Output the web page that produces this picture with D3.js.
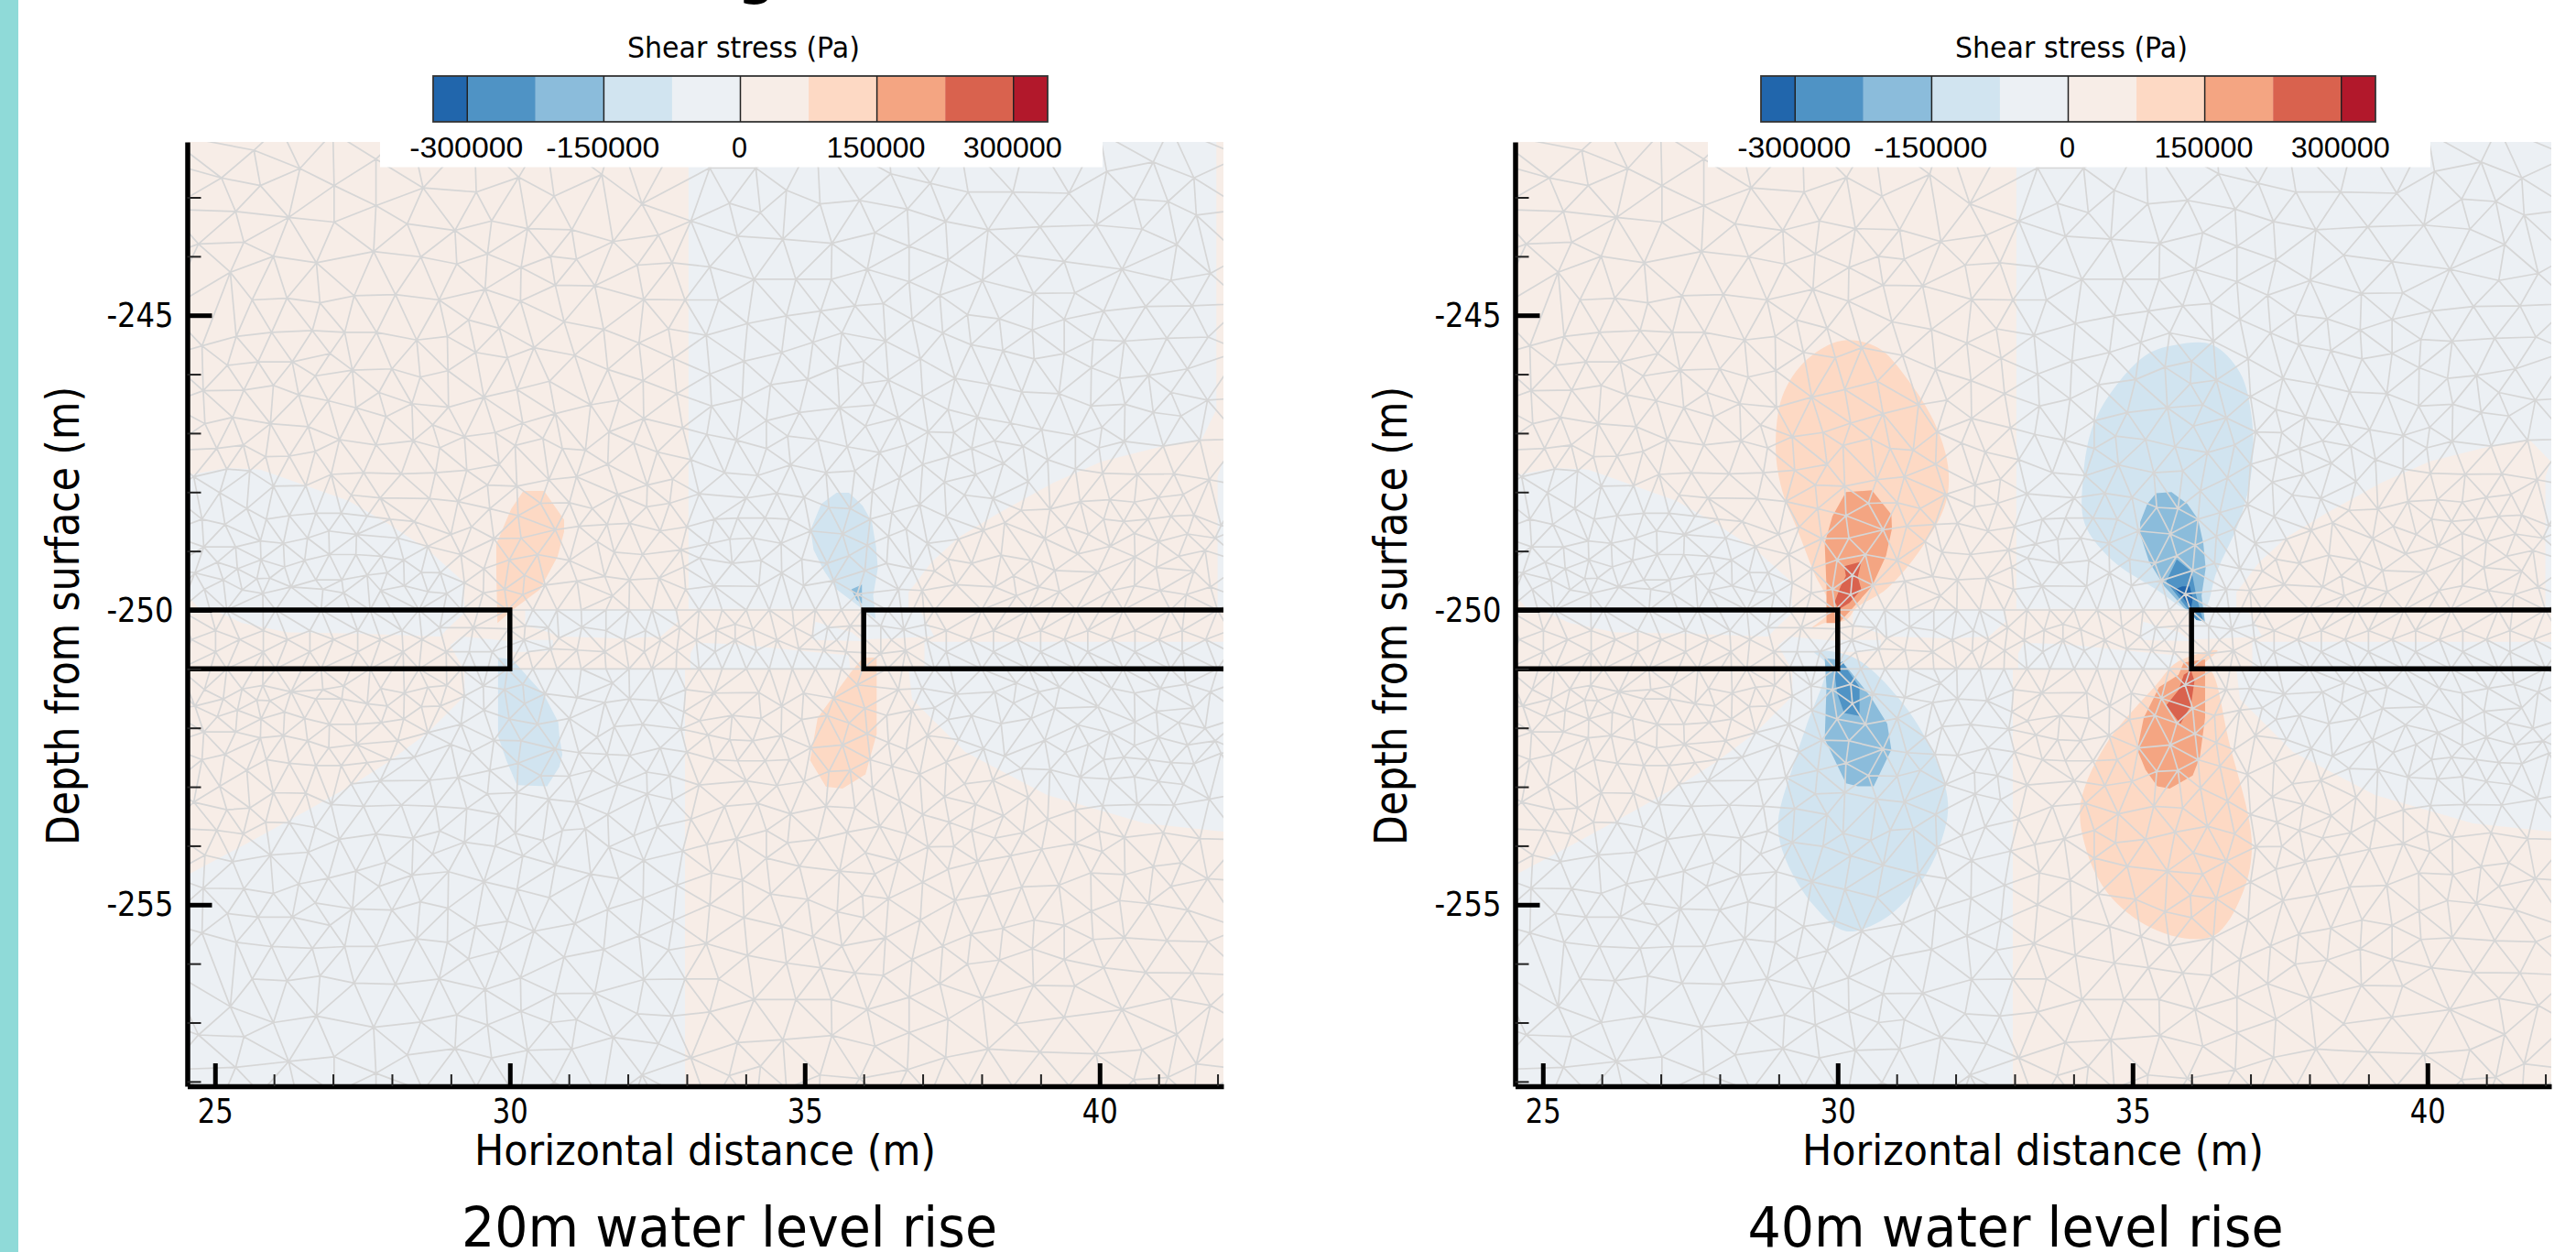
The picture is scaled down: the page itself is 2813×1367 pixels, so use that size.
<!DOCTYPE html>
<html><head><meta charset="utf-8">
<script src="https://cdn.jsdelivr.net/npm/d3@7"></script>
<style>html,body{margin:0;padding:0;background:#fff;overflow:hidden}svg{display:block}text{fill:#000}</style>
</head><body><svg id="c" width="2813" height="1367"></svg>
<script>
// ---------- colour levels (Pa) ----------
const stressThresholds=[-300000,-225000,-150000,-75000,0,75000,150000,225000,300000];
const stressColors=["#2166ac","#4f93c5","#8bbcdb","#d1e4f0","#ecf0f4","#f7ede7","#fdd9c4","#f4a582","#d9624e","#b2182b"];
const legendStops=[-337500,-300000,-225000,-150000,-75000,0,75000,150000,225000,300000,337500];
const legendTicks=[-300000,-150000,0,150000,300000];
const legendTitle="Shear stress (Pa)";
const xMajor=[25,30,35,40];
const xMinor=[26,27,28,29,31,32,33,34,36,37,38,39,41,42];
const yMajor=[-245,-250,-255];
const yMinor=[-243,-244,-246,-247,-248,-249,-251,-252,-253,-254,-256,-257,-258];
const panelCaptions=["20m water level rise","40m water level rise"];

// ---------- mesh nodes above the excavation (m, m); the mesh below is their reflection about -250.5 ----------
const meshUpperWest=[[25.11,-242.67],[25.77,-242.8],[26.44,-242.51],[27.02,-242.8],[27.73,-242.35],[28.53,-242.84],[29.43,-242.91],[30.15,-242.66],[25.35,-243.24],[26.25,-243.34],[27.02,-243.42],[27.73,-243.14],[28.26,-243.45],[29.07,-243.56],[29.69,-243.4],[30.3,-243.53],[24.72,-243.79],[25.49,-243.76],[25.99,-244],[26.72,-244.11],[27.69,-243.92],[28.49,-244.01],[29.1,-244.13],[29.62,-243.96],[30.19,-244.19],[25.26,-244.27],[25.63,-244.74],[26.22,-244.71],[26.78,-244.79],[27.36,-244.67],[28.06,-244.65],[28.8,-244.74],[29.58,-244.56],[30.18,-244.76],[29.3,-245.08],[29.82,-245.22],[30.41,-245.55],[24.78,-245.52],[25.36,-245.36],[25.96,-245.29],[26.65,-245.26],[27.2,-245.29],[27.74,-245.29],[28.42,-245.42],[28.94,-245.36],[25.21,-245.85],[25.73,-245.79],[26.31,-245.79],[26.95,-245.65],[27.33,-245.93],[28,-245.91],[28.48,-246.05],[28.95,-245.94],[29.42,-245.63],[29.96,-245.72],[26.7,-246.03],[24.8,-246.28],[25.49,-246.27],[25.99,-246.19],[26.42,-246.35],[26.92,-246.45],[27.39,-246.57],[27.78,-246.31],[28.34,-246.5],[28.96,-246.56],[29.56,-246.39],[30.12,-246.26],[24.83,-246.84],[25.3,-246.73],[25.94,-246.84],[26.58,-246.89],[27.11,-247.11],[27.9,-246.72],[28.69,-246.86],[29.23,-247.06],[30.22,-246.83],[30.56,-247.09],[25.03,-247.26],[25.48,-247.2],[26.26,-247.39],[26.7,-247.31],[27.73,-247.2],[28.36,-247.13],[28.81,-247.25],[29.75,-246.99],[30.09,-247.21],[25.86,-247.4],[25.2,-247.61],[25.59,-247.64],[26.97,-247.7],[27.52,-247.67],[28.16,-247.69],[28.74,-247.67],[29.27,-247.63],[29.82,-247.53],[24.64,-247.74],[25.99,-247.9],[26.54,-247.89],[27.31,-248.05],[27.8,-248.1],[28.64,-248.11],[29.12,-248.16],[29.62,-247.88],[30.12,-247.9],[25.08,-248.01],[25.54,-248.28],[24.78,-248.46],[25.17,-248.55],[25.87,-248.46],[26.26,-248.4],[26.71,-248.36],[27.14,-248.36],[27.58,-248.41],[27.97,-248.46],[28.38,-248.5],[29.66,-248.28],[29.35,-248.59],[30.14,-248.4],[25.35,-248.93],[24.81,-248.93],[25.77,-248.83],[26.16,-248.87],[26.57,-248.78],[26.93,-248.66],[27.4,-248.72],[28.1,-248.78],[28.61,-248.92],[29,-248.72],[29.73,-248.79],[30.19,-248.78],[25.04,-249.19],[25.78,-249.15],[25.38,-249.3],[26.52,-249.16],[26.94,-249.06],[27.39,-249.06],[27.82,-249.09],[28.2,-249.15],[29.17,-249.06],[29.99,-249.15],[24.66,-249.37],[25.14,-249.49],[25.71,-249.47],[25.93,-249.46],[26.18,-249.27],[26.71,-249.49],[27.15,-249.49],[27.58,-249.41],[27.92,-249.37],[28.5,-249.36],[28.82,-249.37],[29.56,-249.3],[30.25,-249.41],[24.82,-249.65],[25.46,-249.66],[25.81,-249.72],[26.29,-249.61],[26.83,-249.65],[27.18,-249.71],[27.81,-249.67],[28.21,-249.59],[28.61,-249.69],[28.93,-249.72],[29.23,-249.54],[29.55,-249.71],[29.91,-249.65],[30.22,-249.74]];
const meshUpperCentre=[[31.56,-242.61],[30.75,-242.98],[32.24,-243.11],[33.07,-243.4],[33.39,-242.5],[34.17,-242.5],[33.72,-243.1],[34.25,-243.26],[34.69,-242.88],[35.26,-243.11],[35.93,-243.05],[31.05,-243.55],[31.75,-243.75],[32.52,-243.64],[33.86,-243.66],[34.63,-243.71],[35.46,-243.78],[36.19,-243.6],[30.69,-244],[31.13,-244.05],[32.16,-244.15],[32.75,-244.11],[33.39,-244.18],[34.14,-244.39],[34.85,-244.39],[35.45,-244.39],[36.06,-244.22],[30.77,-244.49],[31.44,-244.5],[32.27,-244.73],[32.97,-244.74],[33.54,-244.74],[34.69,-245.01],[35.27,-244.93],[35.85,-244.84],[30.92,-245.11],[31.59,-245.24],[32.69,-245.23],[33.33,-245.34],[34.03,-245.14],[35.14,-245.46],[35.63,-245.3],[31.1,-245.68],[32.19,-245.47],[32.77,-245.73],[33.97,-245.78],[34.61,-245.63],[35.55,-245.88],[36,-245.78],[30.67,-246.12],[31.66,-245.92],[32.26,-246.11],[32.83,-246.33],[33.39,-246],[34.42,-246.18],[35.05,-246.09],[35.98,-246.16],[30.77,-246.67],[31.37,-246.52],[31.85,-246.44],[32.27,-246.75],[33.42,-246.54],[33.94,-246.42],[34.91,-246.65],[35.59,-246.57],[36.19,-246.52],[30.89,-247.26],[31.28,-247.29],[31.68,-246.98],[32.1,-247.17],[32.93,-246.91],[33.34,-247.02],[33.84,-247.12],[34.35,-246.79],[34.71,-247.05],[35.22,-247.11],[36.03,-246.88],[31.66,-247.53],[32.5,-247.32],[31.13,-247.74],[30.66,-247.79],[33.07,-247.45],[34.35,-247.26],[34.76,-247.54],[35.72,-247.23],[31.01,-248.18],[31.83,-248.04],[32.33,-247.88],[32.76,-247.78],[33.64,-247.67],[34.2,-247.72],[35.36,-247.67],[35.85,-247.64],[30.52,-248.19],[31.4,-248.28],[32.32,-248.25],[32.71,-248.19],[33.21,-248.03],[34.01,-248.1],[34.53,-248.02],[34.99,-248.09],[36.15,-247.98],[30.77,-248.64],[31.17,-248.58],[31.65,-248.55],[32.03,-248.53],[32.55,-248.66],[33,-248.59],[33.47,-248.46],[33.86,-248.44],[34.33,-248.44],[34.74,-248.46],[35.41,-248.26],[35.77,-248.28],[36.11,-248.46],[30.47,-249.06],[31.01,-249.16],[31.48,-248.84],[31.77,-249.02],[32.25,-249.06],[32.9,-248.98],[33.36,-248.88],[33.73,-248.8],[34.12,-248.78],[34.6,-248.87],[35.1,-248.66],[35.64,-248.71],[36.06,-248.9],[30.6,-249.58],[31.61,-249.43],[32.03,-249.49],[32.53,-249.46],[32.95,-249.27],[33.22,-249.12],[33.77,-249.21],[34.26,-249.16],[34.95,-249.14],[35.38,-249.21],[35.75,-249.08],[36.02,-249.33],[31.14,-249.51],[31.74,-249.76],[32.98,-249.65],[33.46,-249.59],[34.22,-249.6],[34.61,-249.37],[34.98,-249.59],[35.49,-249.5],[35.89,-249.73]];
const meshUpperEast=[[36.46,-242.6],[37.13,-242.76],[37.77,-242.91],[38.53,-242.91],[39.48,-242.93],[40.12,-242.56],[40.91,-242.4],[41.6,-242.67],[36.74,-243.2],[37.39,-243.41],[38.11,-243.55],[38.99,-243.5],[39.94,-243.47],[40.58,-243.03],[41.16,-243.07],[41.64,-243.3],[36.77,-243.83],[37.43,-244.06],[38.58,-243.98],[39.4,-244.09],[40.72,-243.54],[40.38,-244.22],[41.31,-243.8],[36.77,-244.43],[38.01,-244.41],[38.88,-244.63],[39.58,-244.62],[41.21,-244.41],[41.88,-244.29],[36.33,-244.8],[37.29,-244.66],[37.76,-244.99],[38.3,-245.06],[39.4,-245.07],[40.07,-244.93],[40.78,-244.85],[41.57,-244.84],[36.82,-245.07],[37.34,-245.3],[38.86,-245.25],[39.89,-245.41],[40.42,-245.44],[41.14,-245.39],[41.84,-245.37],[36.37,-245.44],[37.82,-245.5],[38.36,-245.6],[38.89,-245.74],[39.4,-245.65],[36.96,-245.74],[37.55,-246.07],[39.86,-245.89],[40.34,-246.07],[40.83,-246.02],[41.49,-245.91],[36.42,-246.1],[38.13,-246.17],[38.68,-246.3],[39.31,-246.33],[41.21,-246.31],[41.83,-246.44],[37,-246.38],[37.43,-246.6],[39.85,-246.54],[40.43,-246.51],[40.91,-246.65],[41.38,-246.71],[36.59,-246.74],[37.93,-246.73],[38.49,-246.83],[39.02,-246.94],[39.59,-247.04],[40.04,-246.9],[37.09,-246.98],[37.53,-246.99],[36.73,-247.2],[36.27,-247.33],[38.22,-247.13],[38.7,-247.22],[37.83,-247.26],[39.99,-247.25],[40.42,-247.14],[41.08,-247.22],[41.7,-247.12],[37.45,-247.4],[38.37,-247.51],[39.12,-247.45],[39.59,-247.61],[37,-247.53],[36.61,-247.76],[37.9,-247.7],[37.37,-247.83],[38.79,-247.82],[40.05,-247.68],[40.64,-247.7],[41.26,-247.69],[41.86,-247.79],[37.71,-248.05],[36.95,-248.21],[38.19,-248.11],[38.67,-248.31],[39.16,-248.29],[39.67,-248.16],[40.17,-248.13],[40.59,-248.17],[41,-248.09],[41.42,-248.04],[36.48,-248.35],[37.4,-248.42],[38.39,-248.52],[39.42,-248.58],[40.07,-248.46],[40.41,-248.5],[40.82,-248.46],[41.21,-248.41],[41.6,-248.39],[42.06,-248.57],[36.72,-248.63],[36.42,-248.75],[37.08,-248.87],[37.61,-248.8],[38.03,-248.65],[39.07,-248.79],[39.81,-248.72],[40.18,-248.92],[40.59,-248.7],[41,-248.84],[41.49,-248.71],[41.96,-248.78],[36.39,-249.21],[36.82,-249.3],[37.43,-249.14],[37.83,-249.21],[38.33,-249.07],[38.84,-249.16],[39.63,-249.05],[40.6,-249.1],[41.34,-249.09],[41.79,-248.99],[37.2,-249.34],[39.24,-249.33],[38.54,-249.42],[39.97,-249.36],[40.96,-249.28],[41.6,-249.34],[36.59,-249.65],[36.99,-249.67],[37.57,-249.57],[38.22,-249.61],[38.59,-249.76],[38.97,-249.61],[39.32,-249.69],[40.2,-249.67],[40.59,-249.59],[41.03,-249.67],[41.47,-249.74],[41.88,-249.61]];
// outermost nodes, just past the frame
const meshUpperOuter=[[24.1,-241.9],[25.66,-242.2],[26.1,-241.8],[27,-241.9],[28.3,-241.8],[29.4,-241.9],[30.6,-241.9],[31.8,-241.8],[32.9,-241.9],[34,-241.8],[35.2,-241.9],[36.4,-241.8],[37.6,-241.9],[38.8,-241.8],[40,-241.9],[41.2,-241.8],[42.5,-241.9],[24.15,-242.4],[24.2,-243.2],[24.15,-244],[24.2,-244.9],[24.15,-245.7],[24.2,-246.5],[24.15,-247.3],[24.2,-248],[24.15,-248.7],[24.2,-249.3],[24.15,-249.9],[42.4,-242.3],[42.45,-243.2],[42.4,-244],[42.45,-244.8],[42.4,-245.6],[42.45,-246.4],[42.4,-247.1],[42.45,-247.9],[42.4,-248.6],[42.45,-249.2],[42.4,-249.8]];
// nodes inside the excavation band (-250 to -251), read directly
const meshBandEdgeX=[24.4,25.2,26.03,26.8,27.63,28.46,29.18,29.96,30.39,30.8,31.21,31.63,32.02,32.41,32.82,33.21,33.6,34.01,34.4,34.79,35.18,35.62,35.98,36.4,37.2,38,38.8,39.6,40.4,41.2,42,42.5];
const meshBandInner=[[24.2,-250.35],[25.01,-250.35],[25.82,-250.35],[26.61,-250.35],[27.42,-250.35],[28.17,-250.35],[28.81,-250.3],[29.38,-250.3],[29.98,-250.32],[30.26,-250.27],[30.65,-250.3],[31.22,-250.29],[31.63,-250.35],[32.3,-250.35],[32.88,-250.3],[33.5,-250.34],[33.82,-250.24],[34.12,-250.33],[34.82,-250.29],[35.39,-250.3],[35.77,-250.27],[36.29,-250.27],[36.68,-250.33],[37.04,-250.25],[37.4,-250.35],[38.2,-250.35],[39,-250.35],[39.8,-250.35],[40.6,-250.35],[41.4,-250.35],[42.2,-250.35],[24.6,-250.5],[25.42,-250.5],[26.23,-250.5],[27.01,-250.5],[27.81,-250.5],[28.51,-250.5],[30.24,-250.51],[30.83,-250.48],[31.94,-250.51],[32.56,-250.51],[33.16,-250.51],[33.82,-250.51],[34.53,-250.51],[35.13,-250.45],[35.54,-250.51],[36.47,-250.51],[37.07,-250.51],[37.8,-250.5],[38.6,-250.5],[39.4,-250.5],[40.2,-250.5],[41,-250.5],[41.8,-250.5],[24.2,-250.71],[25.01,-250.71],[25.82,-250.71],[26.61,-250.71],[27.42,-250.71],[28.19,-250.71],[28.92,-250.71],[29.31,-250.71],[29.7,-250.71],[30.31,-250.71],[30.69,-250.66],[31.14,-250.68],[31.61,-250.71],[32.28,-250.71],[32.83,-250.69],[33.48,-250.71],[34.18,-250.69],[34.9,-250.66],[35.32,-250.68],[35.7,-250.71],[36.29,-250.74],[36.71,-250.69],[37.4,-250.71],[38.2,-250.71],[39,-250.71],[39.8,-250.71],[40.6,-250.71],[41.4,-250.71],[42.2,-250.71]];
const meshMirrorDepth=-250.5;

// ---------- low-stress zones, shared by both panels (polygons in m) ----------
const zoneEastUpperBlue=[[33.03,-241.9],[42.5,-241.9],[42.5,-249.98],[33.03,-249.98]];
const zoneWestWedgeBlue=[[24,-247.71],[24.58,-247.71],[25.2,-247.59],[25.77,-247.62],[26.54,-247.89],[27.27,-248.15],[27.94,-248.54],[28.61,-248.98],[29.21,-249.52],[29.23,-250],[29.21,-250.07],[28.93,-250.33],[28.82,-250.45],[27.42,-250.4],[26.23,-250.38],[25.46,-250.22],[25.04,-250.03],[24.75,-250],[24.53,-249.75],[24,-249.75]];
const zoneEastWedgePeach=[[36.76,-250],[36.76,-249.7],[37.15,-249.19],[37.61,-248.77],[38.28,-248.36],[39.22,-247.84],[40.04,-247.48],[41.08,-247.22],[41.73,-247.11],[42.09,-247.48],[42,-247.74],[42,-250]];
const zoneWestLowerBlue=[[24,-251],[32.97,-251],[32.97,-259],[24,-259]];
const zoneWestLowerWedgePeach=[[24,-251],[29.23,-251],[29.23,-251.46],[28.61,-252.08],[27.94,-252.58],[27.32,-252.97],[26.6,-253.38],[25.56,-253.95],[24.58,-254.47],[24,-254.6]];
const zoneEastLowerWedgeBlue=[[36.76,-251],[36.82,-251.51],[37.72,-252.41],[39.11,-253.14],[40.77,-253.62],[42.1,-253.76],[42.5,-253.8],[42.5,-251]];
const zoneBandA=[[28.99,-250.6],[29.18,-250.45],[30,-250.53],[30,-251],[29.21,-251]];
const zoneBandB=[[30.26,-249.99],[32.8,-249.99],[32.85,-250.2],[32.56,-250.45],[31.92,-250.48],[30.86,-250.45],[30.52,-250.33],[30.26,-250.27]];
const zoneBandC=[[30.05,-250.51],[30.73,-250.51],[30.73,-250.69],[30.31,-250.71],[30.05,-250.71]];
const zoneBandD=[[33.06,-250.74],[33.16,-250.56],[33.83,-250.58],[34.92,-250.69],[35.75,-250.77],[35.77,-251.01],[33.06,-251.01]];
const zoneBandE=[[35.13,-250.51],[35.18,-250.2],[35.8,-250.38],[35.98,-250.53]];
const zoneBandF=[[36,-250],[36.95,-250],[37.2,-250.45],[36,-250.5]];
const zoneBandG=[[37.03,-250.54],[42.5,-250.54],[42.5,-251],[37.03,-251]];
const zoneEdgeStripPeach=[[41.98,-241.9],[42.5,-241.9],[42.5,-247.3],[42.09,-247.48],[41.73,-247.11],[41.98,-246.6]];

// ---------- plumes, 20 m panel ----------
const p20WestUpper=[[30.23,-247.98],[30.58,-247.98],[30.92,-248.47],[30.92,-248.67],[30.81,-249.09],[30.51,-249.65],[30.02,-250.02],[29.79,-250.22],[29.77,-249.37],[29.77,-248.88],[30.02,-248.29]];
const p20WestLower=[[29.8,-250.81],[30.04,-250.84],[30.58,-251.44],[30.82,-251.9],[30.84,-252.14],[30.89,-252.45],[30.84,-252.66],[30.63,-252.99],[30.12,-252.97],[29.94,-252.55],[29.8,-252.14],[29.8,-251.36]];
const p20EastUpper=[[35.54,-248.01],[35.75,-248.01],[35.98,-248.23],[36.14,-248.51],[36.21,-248.93],[36.24,-249.29],[36.16,-249.76],[36.19,-250.01],[36.2,-250.15],[35.95,-249.96],[35.54,-249.65],[35.33,-249.34],[35.15,-248.98],[35.1,-248.64],[35.28,-248.2]];
const p20EastUpperCore=[[35.79,-249.65],[35.97,-249.57],[35.97,-249.89],[35.88,-249.83]];
const p20EastLower=[[36.22,-250.81],[36.22,-252.1],[36.03,-252.79],[35.64,-253.03],[35.36,-253],[35.09,-252.55],[35.22,-251.83],[35.78,-251.06],[35.99,-250.81]];

// ---------- plumes, 40 m panel ----------
const p40WestUpperLight=[[30.07,-245.43],[30.68,-245.55],[31.15,-246.04],[31.63,-246.8],[31.87,-247.56],[31.83,-248.19],[31.42,-248.95],[30.82,-249.65],[30.32,-249.96],[30.14,-250.17],[29.78,-250.22],[29.57,-250.3],[29.87,-250],[29.6,-249.37],[29.33,-248.67],[29.06,-247.98],[28.95,-247.29],[29.06,-246.38],[29.47,-245.76]];
const p40WestUpperMid=[[30.14,-248],[30.58,-247.97],[30.91,-248.38],[30.92,-248.62],[30.82,-249.08],[30.58,-249.6],[30.26,-249.96],[30.02,-250.22],[29.81,-250.22],[29.81,-249.6],[29.78,-248.87],[29.91,-248.41]];
const p40WestUpperCore=[[30.11,-249.26],[30.4,-249.18],[30.34,-249.44],[30.4,-249.65],[30.2,-249.88],[30.02,-249.99],[29.95,-249.86],[30.05,-249.6],[30.14,-249.42]];
const p40EastUpperLight=[[35.74,-245.5],[36.35,-245.5],[36.82,-245.97],[37.02,-246.73],[37.02,-247.63],[36.82,-248.47],[36.42,-249.37],[36.21,-250],[35.94,-250],[35.4,-249.65],[34.66,-249.16],[34.19,-248.54],[34.16,-247.77],[34.33,-246.87],[34.73,-246.18],[35.27,-245.65]];
const p40EastUpperMid=[[35.4,-248.02],[35.66,-248],[35.93,-248.2],[36.11,-248.46],[36.2,-248.87],[36.24,-249.29],[36.17,-249.76],[36.23,-250.22],[36.02,-250.07],[35.87,-249.96],[35.54,-249.6],[35.28,-249.18],[35.13,-248.72],[35.13,-248.51],[35.25,-248.2]];
const p40EastUpperDark=[[35.75,-249.14],[35.99,-249.34],[36.02,-249.44],[36.08,-249.76],[36.2,-250.19],[36.08,-250.17],[35.96,-250.01],[35.84,-249.86],[35.57,-249.52]];
const p40EastUpperDeep=[[35.84,-249.6],[35.97,-249.6],[36.02,-249.81],[35.99,-249.99],[35.87,-249.81],[35.72,-249.65]];
const p40WestLowerLight=[[29.6,-250.71],[30.26,-250.8],[31.02,-251.48],[31.63,-252.45],[31.87,-253.28],[31.76,-253.91],[31.42,-254.6],[30.82,-255.22],[30.14,-255.45],[29.6,-255.02],[29.13,-254.26],[28.99,-253.63],[29.26,-252.59],[29.47,-251.96],[29.8,-250.92]];
const p40WestLowerMid=[[29.78,-250.82],[29.99,-250.84],[30.14,-250.95],[30.55,-251.46],[30.84,-251.93],[30.91,-252.37],[30.61,-252.99],[30.34,-252.99],[30.14,-252.94],[29.78,-252.19],[29.81,-251.31]];
const p40WestLowerDark=[[30.08,-250.87],[30.17,-251.02],[30.37,-251.31],[30.37,-251.8],[30.11,-251.75],[29.99,-251.41],[29.95,-251.1],[29.96,-251]];
const p40EastLowerLight=[[35.75,-250.89],[36.44,-250.69],[36.2,-250.95],[36.35,-251.06],[36.62,-252.17],[37.02,-253.91],[36.89,-254.74],[36.42,-255.5],[35.88,-255.57],[35.13,-255.29],[34.53,-254.74],[34.19,-253.98],[34.12,-253.28],[34.53,-252.31],[35.4,-251.27]];
const p40EastLowerMid=[[35.87,-250.89],[36.23,-250.84],[36.23,-251.83],[36.14,-252.5],[36.02,-252.81],[35.63,-253.03],[35.42,-252.99],[35.22,-252.71],[35.08,-252.37],[35.19,-251.83],[35.45,-251.31],[35.78,-251.1]];
const p40EastLowerCore=[[35.99,-251.02],[36.05,-251.2],[35.99,-251.62],[35.81,-251.93],[35.57,-251.62],[35.78,-251.36],[35.87,-251.1]];

const stressBlue=-37500, stressPeach=37500;
const sharedZones=[[stressBlue,zoneEastUpperBlue],[stressBlue,zoneWestWedgeBlue],[stressPeach,zoneEastWedgePeach],[stressBlue,zoneWestLowerBlue],[stressPeach,zoneWestLowerWedgePeach],[stressBlue,zoneEastLowerWedgeBlue],[stressBlue,zoneBandA],[stressBlue,zoneBandB],[stressBlue,zoneBandC],[stressBlue,zoneBandD],[stressBlue,zoneBandE],[stressBlue,zoneBandF],[stressBlue,zoneBandG]];
const panels=[
 {dx:0,caption:panelCaptions[0],capX:796.5,smooth:false,zones:[...sharedZones,[stressPeach,zoneEdgeStripPeach]],
  plumes:[[112500,p20WestUpper],[-112500,p20WestLower],[-112500,p20EastUpper],[-187500,p20EastUpperCore],[112500,p20EastLower]]},
 {dx:1450,caption:panelCaptions[1],capX:751,smooth:true,zones:sharedZones,
  plumes:[[112500,p40WestUpperLight],[-112500,p40EastUpperLight],[-112500,p40WestLowerLight],[112500,p40EastLowerLight],
          [187500,p40WestUpperMid],[-187500,p40EastUpperMid],[-187500,p40WestLowerMid],[187500,p40EastLowerMid],
          [262500,p40WestUpperCore],[-262500,p40EastUpperDark],[-320000,p40EastUpperDeep],[-262500,p40WestLowerDark],[262500,p40EastLowerCore]]}
];

// ---------- layout and style ----------
const svg=d3.select("#c");
const SANS='"DejaVu Sans",sans-serif', BAR='"Liberation Sans",Arial,sans-serif';
const x=d3.scaleLinear().domain([24.53,42.1]).range([204.5,1336]);
const y=d3.scaleLinear().domain([-242.06,-258.08]).range([155,1186]);
const lg=d3.scaleLinear().domain([-337500,337500]).range([473,1144]);
const colorOf=d3.scaleThreshold().domain(stressThresholds).range(stressColors);
const bandX=meshBandEdgeX.flatMap(v=>[[v,-250],[v,-251]]);
const upper=[...meshUpperWest,...meshUpperCentre,...meshUpperEast,...meshUpperOuter];
const nodes=[...upper,...upper.map(d=>[d[0],2*meshMirrorDepth-d[1]]),...bandX,...meshBandInner];
const meshPath=d3.Delaunay.from(nodes,d=>x(d[0]),d=>y(d[1])).render();
const linear=d3.line().x(d=>x(d[0])).y(d=>y(d[1])).curve(d3.curveLinearClosed);
const smooth=d3.line().x(d=>x(d[0])).y(d=>y(d[1])).curve(d3.curveCatmullRomClosed);

svg.append("rect").attr("x",0).attr("y",0).attr("width",20).attr("height",1367).attr("fill","#8fdad8");
svg.append("text").attr("x",826).attr("y",-7).attr("text-anchor","middle").style("font",`bold 56px ${SANS}`).text("g");

const defs=svg.append("defs");
defs.append("clipPath").attr("id","plot").append("rect")
  .attr("x",x.range()[0]).attr("y",y.range()[0]).attr("width",x.range()[1]-x.range()[0]).attr("height",y.range()[1]-y.range()[0]);

function fit(sel,w){sel.attr("textLength",w).attr("lengthAdjust","spacingAndGlyphs");}

panels.forEach(p=>{
  const g=svg.append("g").attr("transform",`translate(${p.dx},0)`);
  const plot=g.append("g").attr("clip-path","url(#plot)");
  plot.append("rect").attr("x",x.range()[0]).attr("y",y.range()[0]).attr("width",x.range()[1]-x.range()[0]).attr("height",y.range()[1]-y.range()[0]).attr("fill",colorOf(stressPeach));
  plot.selectAll("path.zone").data(p.zones).join("path").attr("class","zone").attr("d",d=>linear(d[1])).attr("fill",d=>colorOf(d[0]));
  plot.selectAll("path.plume").data(p.plumes).join("path").attr("class","plume")
    .attr("d",d=>(p.smooth&&Math.abs(d[0])<150000?smooth:linear)(d[1])).attr("fill",d=>colorOf(d[0]));
  plot.append("path").attr("d",meshPath).attr("fill","none").attr("stroke","#d6d6d6").attr("stroke-width",1.7);

  // tunnel outline
  const outline=d3.line().x(d=>x(d[0])).y(d=>y(d[1]));
  [[[x.domain()[0],-250],[30,-250],[30,-251],[x.domain()[0],-251]],[[x.domain()[1],-250],[36,-250],[36,-251],[x.domain()[1],-251]]].forEach(s=>{
    g.append("path").attr("d",outline(s)).attr("fill","none").attr("stroke","#000").attr("stroke-width",5.5).attr("stroke-linejoin","miter");
  });

  // axes (plain hyphen minus on the labels, as in the figure)
  const ax=g.append("g").attr("transform",`translate(0,${y.range()[1]})`).call(d3.axisBottom(x).tickValues(xMajor).tickFormat(String).tickSizeInner(-25).tickSizeOuter(0).tickPadding(14));
  ax.select(".domain").attr("stroke-width",5.5).attr("stroke","#000");
  ax.selectAll(".tick line").attr("stroke-width",5).attr("stroke","#000");
  ax.selectAll(".tick text").style("font",`37px ${SANS}`).call(fit,39);
  const axm=g.append("g").attr("transform",`translate(0,${y.range()[1]})`).call(d3.axisBottom(x).tickValues(xMinor).tickSizeInner(-13).tickSizeOuter(0).tickFormat(""));
  axm.select(".domain").remove(); axm.selectAll(".tick line").attr("stroke-width",2).attr("stroke","#222");

  const ay=g.append("g").attr("transform",`translate(${x.range()[0]},0)`).call(d3.axisLeft(y).tickValues(yMajor).tickFormat(String).tickSizeInner(-27).tickSizeOuter(0).tickPadding(15));
  ay.select(".domain").attr("stroke-width",5.5).attr("stroke","#000");
  ay.selectAll(".tick line").attr("stroke-width",5).attr("stroke","#000");
  ay.selectAll(".tick text").style("font",`38px ${SANS}`).call(fit,73);
  const aym=g.append("g").attr("transform",`translate(${x.range()[0]},0)`).call(d3.axisLeft(y).tickValues(yMinor).tickSizeInner(-15).tickSizeOuter(0).tickFormat(""));
  aym.select(".domain").remove(); aym.selectAll(".tick line").attr("stroke-width",2).attr("stroke","#222");

  g.append("text").attr("x",770).attr("y",1272).attr("text-anchor","middle").style("font",`46px ${SANS}`).call(fit,504).text("Horizontal distance (m)");
  g.append("text").attr("transform","translate(86,672.5) rotate(-90)").attr("text-anchor","middle").style("font",`50px ${SANS}`).call(fit,501).text("Depth from surface (m)");
  g.append("text").attr("x",p.capX).attr("y",1361).attr("text-anchor","middle").style("font",`60px ${SANS}`).call(fit,585).text(p.caption);

  // legend
  g.append("rect").attr("x",415).attr("y",y.range()[0]-2).attr("width",789).attr("height",29.5).attr("fill","#fff");
  g.append("text").attr("x",812).attr("y",63).attr("text-anchor","middle").style("font",`32px ${SANS}`).call(fit,254).text(legendTitle);
  const pairs=d3.pairs(legendStops);
  g.selectAll("rect.bin").data(pairs).join("rect").attr("class","bin")
    .attr("x",d=>lg(d[0])).attr("y",83).attr("width",d=>lg(d[1])-lg(d[0])).attr("height",50).attr("fill",d=>colorOf((d[0]+d[1])/2));
  g.append("rect").attr("x",lg.range()[0]).attr("y",83).attr("width",lg.range()[1]-lg.range()[0]).attr("height",50).attr("fill","none").attr("stroke","#333").attr("stroke-width",1.8);
  g.selectAll("line.lt").data(legendTicks).join("line").attr("class","lt").attr("x1",d=>lg(d)).attr("x2",d=>lg(d)).attr("y1",83).attr("y2",133).attr("stroke","#222").attr("stroke-width",1.5);
  g.selectAll("text.ll").data(legendTicks).join("text").attr("class","ll").attr("x",d=>lg(d)-1).attr("y",172).attr("text-anchor","middle")
    .style("font",`31px ${BAR}`).each(function(d){const s=String(d);d3.select(this).call(fit,d===0?17:(s.startsWith("-")?124:108)).text(s);});
});
</script></body></html>
